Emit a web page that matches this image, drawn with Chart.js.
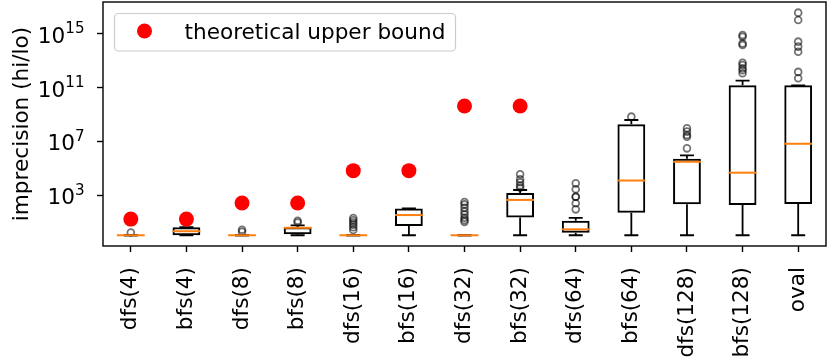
<!DOCTYPE html>
<html>
<head>
<meta charset="utf-8">
<script src="https://cdn.jsdelivr.net/npm/chart.js@4"></script>
<style>
    body { margin: 0; background: #fff; }
</style>
</head>
<body>
<canvas id="chart" width="830" height="361"></canvas>
<script>
// categories
const labels = ['dfs(4)', 'bfs(4)', 'dfs(8)', 'bfs(8)', 'dfs(16)', 'bfs(16)', 'dfs(32)',
    'bfs(32)', 'dfs(64)', 'bfs(64)', 'dfs(128)', 'bfs(128)', 'oval'];

// red dots (2^n), not plotted past 32
const upperBound = [16, 16, 256, 256, 65536, 65536, 4294967296, 4294967296,
    null, null, null, null, null];

// box plot statistics
const whiskerLow = [1, 1, 1, 1, 1, 1, 1, 1, 1, 1, 1, 1, 1];
const boxLow = [1, 1, 1, 1.2, 1, 4.9, 1, 21, 1.55, 48, 204, 180, 215];
const medians = [1, 2, 1, 3.6, 1, 32, 1, 430, 2.75, 1.2e4, 3e5, 4.6e4, 6.6e6];
const boxHigh = [1, 4, 1, 4, 1, 100, 1, 1400, 12, 1.9e8, 5.1e5, 1.5e11, 1.5e11];
const whiskerHigh = [1, 4, 1, 5.5, 1, 100, 1, 2350, 20, 3.9e8, 9.1e5, 3.3e11, 1.5e11];
const outliers = [
    [1.6],
    [],
    [1.8, 2.6],
    [9, 12],
    [2.5, 4, 6, 9, 13, 19],
    [],
    [10, 14, 20, 35, 60, 110, 200, 300],
    [3500, 5000, 9000, 15000, 35000],
    [85, 240, 750, 750, 2700, 7400],
    [6.9e8],
    [3e6, 2.2e7, 3e7, 5.3e7, 9.3e7],
    [1.2e12, 2e12, 2.8e12, 4.9e12, 7.2e12, 1.5e14, 2e14, 6.3e14, 8.5e14],
    [5e11, 1.5e12, 4.8e13, 1.15e14, 2.7e14, 1.1e16, 3.9e16]
];

const yTicks = [1e3, 1e7, 1e11, 1e15];

const ink = '#000000';
const orange = '#ff7f0e';

Chart.defaults.font.family = '"DejaVu Sans"';
Chart.defaults.font.size = 21.6;
Chart.defaults.color = ink;

// build point lists from the arrays above
var boxes = labels.map(function (c, i) { return [boxLow[i], boxHigh[i]]; });
var whiskerPts = [];
var capPts = [];
var outlierPts = [];
labels.forEach(function (c, i) {
    whiskerPts.push({x: c, y: whiskerLow[i]}, {x: c, y: boxLow[i]}, {x: c, y: null});
    whiskerPts.push({x: c, y: boxHigh[i]}, {x: c, y: whiskerHigh[i]}, {x: c, y: null});
    capPts.push({x: c, y: whiskerLow[i]}, {x: c, y: whiskerHigh[i]});
    outliers[i].forEach(function (v) { outlierPts.push({x: c, y: v}); });
});

// full frame around the plot
const frame = {
    id: 'frame',
    afterDraw: function (chart) {
        const a = chart.chartArea, ctx = chart.ctx;
        ctx.save();
        ctx.strokeStyle = ink;
        ctx.lineWidth = 1.4;
        ctx.strokeRect(a.left, a.top, a.right - a.left, a.bottom - a.top);
        ctx.restore();
    }
};

// y tick labels as 10 with a raised exponent
const powerLabels = {
    id: 'powerLabels',
    afterDraw: function (chart) {
        const s = chart.scales.y, ctx = chart.ctx;
        const right = s.right - 18.5;
        ctx.save();
        ctx.fillStyle = ink;
        ctx.textBaseline = 'alphabetic';
        ctx.textAlign = 'left';
        s.ticks.forEach(function (t) {
            const py = s.getPixelForValue(t.value);
            const exp = String(Math.round(Math.log10(t.value)));
            ctx.font = '15.1px "DejaVu Sans"';
            const ew = ctx.measureText(exp).width;
            ctx.fillText(exp, right - ew, py - 0.5);
            ctx.font = '21.6px "DejaVu Sans"';
            const bw = ctx.measureText('10').width;
            ctx.fillText('10', right - ew - bw, py + 9);
        });
        ctx.restore();
    }
};

// legend box inside the plot, top left
const legendBox = {
    id: 'legendBox',
    afterDraw: function (chart) {
        const a = chart.chartArea, ctx = chart.ctx;
        const ds = chart.data.datasets[0];
        const x = a.left + 11.5, y = a.top + 11.5, w = 341, h = 37.5;
        ctx.save();
        ctx.beginPath();
        ctx.roundRect(x, y, w, h, 4);
        ctx.fillStyle = 'rgba(255,255,255,0.8)';
        ctx.fill();
        ctx.strokeStyle = '#cccccc';
        ctx.lineWidth = 1.2;
        ctx.stroke();
        ctx.beginPath();
        ctx.arc(x + 30, y + 17.5, 7.5, 0, 2 * Math.PI);
        ctx.fillStyle = ds.pointBackgroundColor;
        ctx.fill();
        ctx.font = '21.6px "DejaVu Sans"';
        ctx.fillStyle = ink;
        ctx.textBaseline = 'alphabetic';
        ctx.fillText(ds.label, x + 70, y + 25);
        ctx.restore();
    }
};

new Chart(document.getElementById('chart'), {
    type: 'bar',
    data: {
        labels: labels,
        datasets: [{
            type: 'line',
            label: 'theoretical upper bound',
            data: upperBound,
            showLine: false,
            pointRadius: 7.5,
            pointBorderWidth: 0,
            pointBackgroundColor: 'red',
            borderColor: 'red',
            backgroundColor: 'red'
        }, {
            type: 'line',
            label: 'median',
            data: medians,
            showLine: false,
            pointStyle: 'line',
            pointRadius: 13.9,
            pointBorderWidth: 2,
            pointBorderColor: orange,
            borderColor: orange
        }, {
            type: 'line',
            label: 'outliers',
            data: outlierPts,
            showLine: false,
            pointStyle: 'circle',
            pointRadius: 3.4,
            pointBorderWidth: 1.8,
            pointBorderColor: 'rgba(0,0,0,0.55)',
            pointBackgroundColor: 'rgba(0,0,0,0)'
        }, {
            type: 'line',
            label: 'caps',
            data: capPts,
            showLine: false,
            pointStyle: 'line',
            pointRadius: 7,
            pointBorderWidth: 1.8,
            pointBorderColor: ink
        }, {
            type: 'line',
            label: 'whiskers',
            data: whiskerPts,
            borderColor: ink,
            borderWidth: 1.8,
            pointRadius: 0,
            spanGaps: false
        }, {
            type: 'bar',
            label: 'boxes',
            data: boxes,
            backgroundColor: 'rgba(0,0,0,0)',
            borderColor: ink,
            borderWidth: 2,
            borderSkipped: false,
            categoryPercentage: 0.5,
            barPercentage: 1
        }]
    },
    options: {
        responsive: false,
        animation: false,
        devicePixelRatio: 1,
        events: [],
        layout: { autoPadding: false, padding: { left: 0, right: 4, top: 2, bottom: 0 } },
        plugins: {
            legend: { display: false },
            tooltip: { enabled: false }
        },
        scales: {
            x: {
                type: 'category',
                offset: true,
                grid: {
                    display: true, offset: false, drawOnChartArea: false,
                    tickLength: 6, tickWidth: 1.4, tickColor: ink
                },
                border: { display: false },
                ticks: {
                    autoSkip: false, minRotation: 90, maxRotation: 90,
                    padding: 15, color: ink, font: { size: 21.6 }
                },
                afterFit: function (s) {
                    s.height = 115;
                    s.paddingLeft = 0;
                    s.paddingRight = 0;
                }
            },
            y: {
                type: 'logarithmic',
                min: Math.pow(10, -0.801),
                max: Math.pow(10, 17.385),
                bounds: 'data',
                afterBuildTicks: function (s) {
                    s.ticks = yTicks.map(function (v) { return { value: v }; });
                },
                ticks: { callback: function () { return ''; } },
                grid: {
                    drawOnChartArea: false, tickLength: 6, tickWidth: 1.4, tickColor: ink
                },
                border: { display: false },
                title: {
                    display: true,
                    text: 'imprecision (hi/lo)',
                    color: ink,
                    font: { size: 21.6 },
                    padding: { top: 9, bottom: 0 }
                },
                afterFit: function (s) {
                    s.width = 103;
                    s.paddingTop = 0;
                    s.paddingBottom = 0;
                }
            }
        }
    },
    plugins: [frame, powerLabels, legendBox]
});
</script>
</body>
</html>
